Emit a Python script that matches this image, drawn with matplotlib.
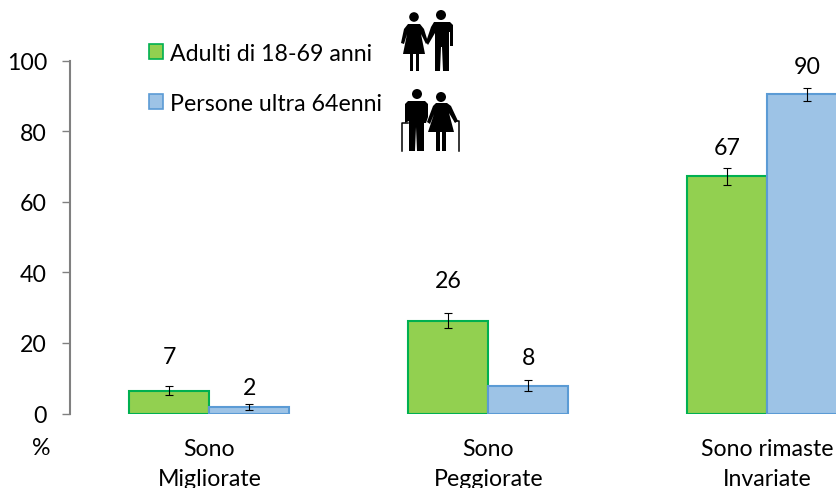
import matplotlib
matplotlib.use('Agg')
import matplotlib.pyplot as plt
from matplotlib.patches import Circle, Polygon, Patch

categorie = ['Sono\nMigliorate', 'Sono\nPeggiorate', 'Sono rimaste\nInvariate']
adulti = [6.4, 26.2, 67.2]
adulti_err_low = [5.2, 24.2, 64.7]
adulti_err_high = [7.7, 28.5, 69.6]
anziani = [1.8, 7.8, 90.4]
anziani_err_low = [1.1, 6.4, 88.5]
anziani_err_high = [2.7, 9.5, 92.1]
adulti_lab = ['7', '26', '67']
anziani_lab = ['2', '8', '90']
yticks = [0, 20, 40, 60, 80, 100]

W, H = 837, 489
plt.rcParams['font.family'] = ['Lato', 'DejaVu Sans']
plt.rcParams['font.size'] = 16.7

verde, verde_bordo = '#92D050', '#00B050'
blu, blu_bordo = '#9DC3E6', '#5B9BD5'

fig = plt.figure(figsize=(W / 100, H / 100), dpi=100)
ax = fig.add_axes([70 / W, 1 - 414.5 / H, (W - 70) / W, 353 / H])
ax.set_ylim(0, 100)
ax.set_xlim(-0.5, 2.25)

w = 80 / 279
x = [0, 1, 2]
x1 = [i - w / 2 for i in x]
x2 = [i + w / 2 for i in x]
ax.bar(x1, adulti, w, color=verde, edgecolor=verde_bordo, linewidth=1.5)
ax.bar(x2, anziani, w, color=blu, edgecolor=blu_bordo, linewidth=1.5)

for xs, val, low, high in [(x1, adulti, adulti_err_low, adulti_err_high),
                           (x2, anziani, anziani_err_low, anziani_err_high)]:
    err = [[v - l for v, l in zip(val, low)], [h - v for v, h in zip(val, high)]]
    ax.errorbar(xs, val, yerr=err, fmt='none', ecolor='black', elinewidth=0.8,
                capsize=3.2, capthick=0.8)

# distanza delle etichette dalla barra, in pixel
off1 = [34, 41, 29]
off2 = [20, 28, 28]
for xs, val, lab, off in [(x1, adulti, adulti_lab, off1), (x2, anziani, anziani_lab, off2)]:
    for i in range(3):
        ax.annotate(lab[i], (xs[i], val[i]), xytext=(0, off[i] * 0.72), textcoords='offset points',
                    ha='center', va='center', annotation_clip=False)

ax.set_yticks(yticks)
ax.set_xticks([])
ax.tick_params(axis='y', direction='out', length=6, width=1, color='#808080', pad=10.5)
for s in ['top', 'right', 'bottom']:
    ax.spines[s].set_visible(False)
ax.spines['left'].set_color('#808080')
ax.spines['left'].set_linewidth(1.5)

for i, c in enumerate(categorie):
    ax.annotate(c, (i, 0), xytext=(0, -24.5 * 0.72), textcoords='offset points',
                ha='center', va='top', linespacing=1.55, annotation_clip=False)
fig.text(41 / W, 1 - 449 / H, '%', ha='center', va='center')

handles = [Patch(facecolor=verde, edgecolor=verde_bordo, linewidth=1.2),
           Patch(facecolor=blu, edgecolor=blu_bordo, linewidth=1.2)]
fig.legend(handles, ['Adulti di 18-69 anni', 'Persone ultra 64enni'], frameon=False,
           loc='upper left', bbox_to_anchor=(149 / W, 1 - 44 / H), borderpad=0, borderaxespad=0,
           handlelength=0.6, handleheight=0.6, handletextpad=0.3, labelspacing=1.24)

# pittogrammi, in pixel
pa = fig.add_axes([0, 0, 1, 1], zorder=5)
pa.set_xlim(0, W)
pa.set_ylim(H, 0)
pa.axis('off')


def forma(punti):
    pa.add_patch(Polygon(punti, closed=True, facecolor='k', edgecolor='none'))


def testa(cx, cy, r):
    pa.add_patch(Circle((cx, cy), r, facecolor='k', edgecolor='none'))


# coppia giovane
testa(414, 18, 4.8)
forma([(408, 25), (420, 25), (424, 30), (428, 43), (426, 45), (421, 35), (425, 55), (403, 55),
       (407, 35), (404, 45), (401, 44), (404, 30)])
forma([(410, 55), (413, 55), (413, 72), (410, 72)])
forma([(416, 55), (419, 55), (419, 72), (416, 72)])
testa(441, 16, 5)
forma([(434, 23), (450, 23), (453, 26), (453, 47), (450, 47), (450, 33), (449, 33), (449, 72), (443, 72),
       (442, 48), (441, 48), (440, 72), (435, 72), (435, 34), (428, 46), (426, 43), (431, 28)])

# coppia anziana
testa(417, 95, 5)
forma([(408, 102), (425, 102), (428, 105), (428, 118), (426, 124), (424, 124), (424, 152), (417, 152),
       (416, 128), (415, 152), (409, 152), (409, 122), (405, 124), (405, 105)])
testa(441, 98, 5)
forma([(436, 104), (447, 104), (451, 107), (458, 122), (455, 124), (449, 114), (454, 133), (428, 133),
       (434, 115), (430, 125), (427, 123), (433, 107)])
forma([(436, 133), (440, 133), (440, 152), (436, 152)])
forma([(442, 133), (446, 133), (446, 152), (442, 152)])
pa.plot([402, 402, 408], [152, 124, 124], color='k', lw=1.1)
pa.plot([459, 459, 455], [152, 122, 122], color='k', lw=1.1)

fig.savefig('out.png', dpi=100)
